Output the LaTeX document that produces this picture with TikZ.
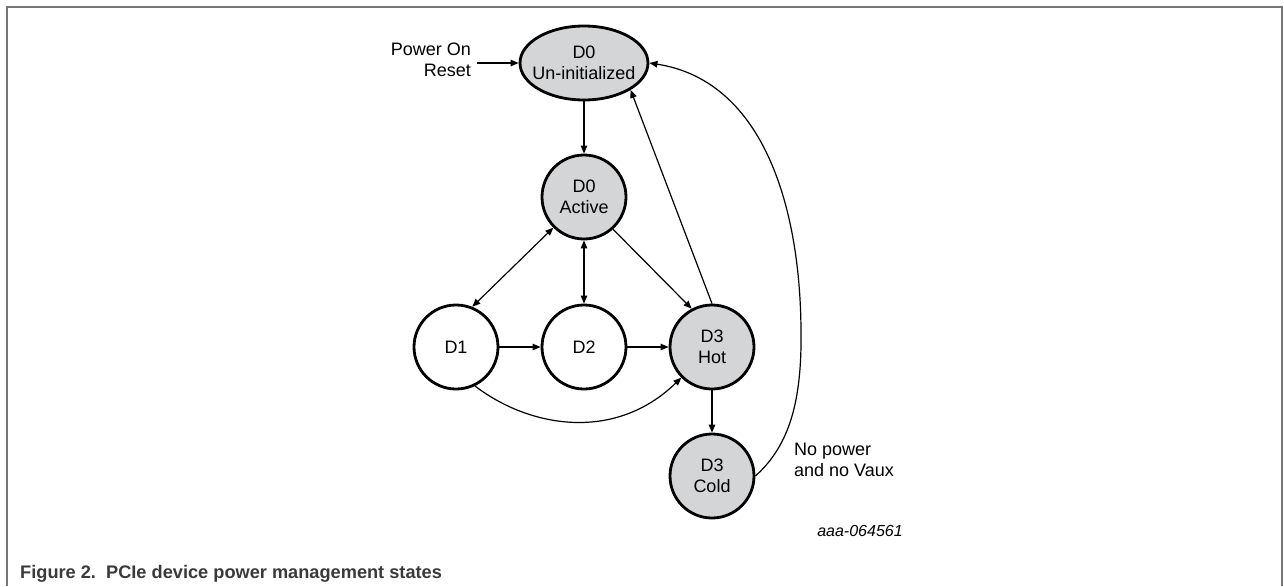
\documentclass[tikz,border=0pt]{standalone}
\usepackage{fontspec}
\setmainfont{Liberation Sans}
\usetikzlibrary{shapes.geometric,arrows.meta}
\definecolor{statefill}{RGB}{212,213,215}
\definecolor{framegray}{RGB}{118,118,118}
\definecolor{captiongray}{RGB}{58,58,58}
\tikzset{
  conn/.style={line width=1.2pt, -{Triangle[length=8pt,width=6.5pt]}},
  bothconn/.style={line width=1.2pt, {Triangle[length=8pt,width=6.5pt]}-{Triangle[length=8pt,width=6.5pt]}},
  statebox/.style={circle, draw, line width=2.8pt, minimum size=84pt, inner sep=0pt,
    align=center, font=\fontsize{18}{21}\selectfont},
  grayfill/.style={fill=statefill},
  whitefill/.style={fill=white},
  labeltext/.style={font=\fontsize{18}{21}\selectfont, inner sep=0pt}
}
\begin{document}
\begin{tikzpicture}[x=1pt,y=-1pt]
\useasboundingbox (0,0) rectangle (1284,586);

% outer frame
\draw[framegray, line width=1.5pt] (7,586) -- (7,7) -- (1282,7) -- (1282,586);

% states
\node[ellipse, draw, line width=2.8pt, grayfill, minimum width=128pt, minimum height=74pt,
      inner sep=0pt,
      label={[align=center,font=\fontsize{18}{21}\selectfont]center:D0\\Un-initialized}]
      (uninit) at (584,63) {};
\node[statebox, grayfill] (active) at (584,197) {D0\\Active};
\node[statebox, whitefill] (d1) at (456,347) {D1};
\node[statebox, whitefill] (d2) at (584,347) {D2};
\node[statebox, grayfill] (hot) at (712,347) {D3\\Hot};
\node[statebox, grayfill] (cold) at (712,476) {D3\\Cold};

% labels
\node[labeltext, align=right, anchor=east] (reset) at (471,60) {Power On\\Reset};
\coordinate (resetend) at (477,63);
\node[labeltext, align=left, anchor=west] (novaux) at (794,460) {No power\\and no Vaux};
\node[font=\fontsize{16}{19}\selectfont\itshape, inner sep=0pt] (docid) at (860,531) {aaa-064561};
\node[font=\fontsize{18.2}{22}\selectfont\bfseries, text=captiongray, anchor=west, inner sep=0pt]
      (caption) at (20,574) {Figure 2.\ \ PCIe device power management states};

% transitions
\draw[conn] (resetend) -- (uninit.west);
\draw[conn] (uninit.south) -- (active.north);
\draw[bothconn] (d1.68) -- (active.-135);
\draw[bothconn] (d2.north) -- (active.south);
\draw[conn] (active.-48) -- (hot.118);
\draw[conn] (d1.east) -- (d2.west);
\draw[conn] (d2.east) -- (hot.west);
\draw[conn] (d1.-64) .. controls (530,428) and (615,442) .. (hot.-135);
\draw[conn] (hot.north) -- (uninit.-30);
\draw[conn] (hot.south) -- (cold.north);
\draw[conn] (cold.east) .. controls (790,445) and (802,400) .. (801,330)
                        .. controls (800,200) and (760,80) .. (uninit.east);
\end{tikzpicture}
\end{document}
